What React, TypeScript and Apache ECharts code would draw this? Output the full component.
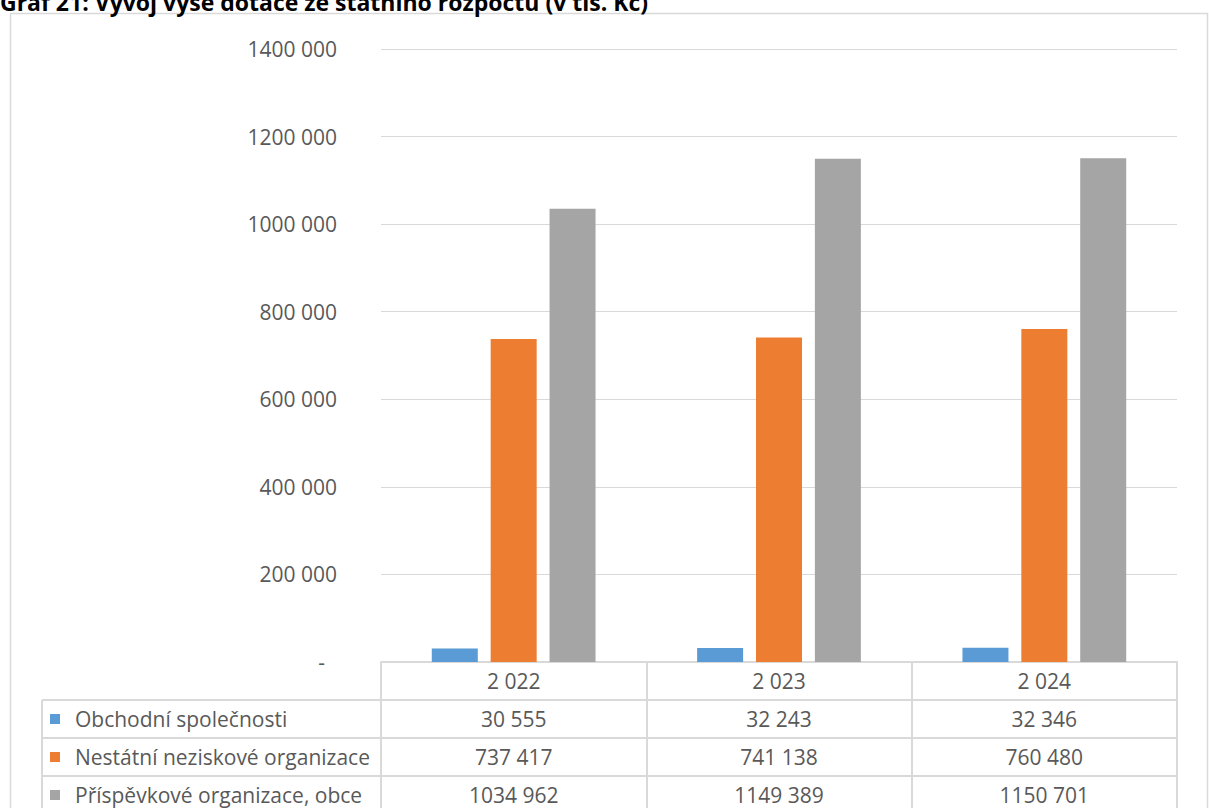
import React, { useEffect, useRef } from "react";
import * as echarts from "echarts";

// Years on the category axis
const years = [2022, 2023, 2024];

// Series names and values (v tis. Kč)
const seriesNames = [
  "Obchodní společnosti",
  "Nestátní neziskové organizace",
  "Příspěvkové organizace, obce",
];
const obchodniSpolecnosti = [30555, 32243, 32346];
const nestatniNeziskove = [737417, 741138, 760480];
const prispevkoveObce = [1034962, 1149389, 1150701];

const seriesColors = ["#5b9bd5", "#ed7d31", "#a5a5a5"];

const yMin = 0;
const yMax = 1400000;
const yStep = 200000;

const titleText = "Graf 21: Vývoj výše dotace ze státního rozpočtu (v tis. Kč)";

// Layout
const W = 1209;
const H = 808;
const FONT = "'Open Sans', 'Noto Sans', sans-serif";
const TEXT_COLOR = "#595959";
const LINE_COLOR = "#d9d9d9";
const GRID_LEFT = 381;
const GRID_RIGHT = 32;
const GRID_TOP = 49;
const GRID_BOTTOM = 146;
const ROW_H = 38;
const TABLE_LEFT = 42;

// Number format "### ##0": only the last group of three is separated
function fmt(n: number): string {
  if (n < 1000) return String(n);
  const hi = Math.floor(n / 1000);
  const lo = String(n % 1000).padStart(3, "0");
  return hi + " " + lo;
}

export default function App() {
  const ref = useRef<HTMLDivElement>(null);

  useEffect(() => {
    if (!ref.current) return;
    const chart = echarts.init(ref.current, undefined, { renderer: "svg" });

    const valueRows = [obchodniSpolecnosti, nestatniNeziskove, prispevkoveObce];
    const axisBaseY = H - GRID_BOTTOM;

    // Each row of the data table is a category axis pushed down by one row height;
    // its ticks form the vertical cell borders and its labels are the cell values.
    const tableAxis = (offset: number, formatter: (v: any, i: number) => string) => ({
      type: "category" as const,
      data: years.map(String),
      gridIndex: 0,
      position: "bottom" as const,
      offset,
      boundaryGap: true,
      axisLine: { show: true, lineStyle: { color: LINE_COLOR, width: 2 } },
      axisTick: {
        show: true,
        interval: 0,
        length: ROW_H,
        lineStyle: { color: LINE_COLOR, width: 2 },
      },
      axisLabel: {
        show: true,
        interval: 0,
        margin: 0,
        color: TEXT_COLOR,
        fontFamily: FONT,
        fontSize: 21,
        lineHeight: ROW_H,
        formatter,
      },
      splitLine: { show: false },
    });

    const xAxes = [
      tableAxis(0, (v: any) => fmt(Number(v))),
      ...valueRows.map((row, r) =>
        tableAxis(ROW_H * (r + 1), (_v: any, i: number) => fmt(row[i]))
      ),
    ];

    // Legend column of the data table
    const legendGraphics: any[] = [];
    for (let r = 0; r < 3; r++) {
      const top = axisBaseY + ROW_H * (r + 1);
      const mid = top + ROW_H / 2;
      legendGraphics.push({
        type: "line",
        shape: { x1: TABLE_LEFT, y1: top, x2: GRID_LEFT, y2: top },
        style: { stroke: LINE_COLOR, lineWidth: 2 },
      });
      legendGraphics.push({
        type: "rect",
        shape: { x: 50, y: mid - 5, width: 10, height: 10 },
        style: { fill: seriesColors[r] },
      });
      legendGraphics.push({
        type: "text",
        x: 75,
        y: mid,
        style: {
          text: seriesNames[r],
          fill: TEXT_COLOR,
          font: `21px ${FONT}`,
          verticalAlign: "middle",
          align: "left",
        },
      });
    }
    legendGraphics.push({
      type: "line",
      shape: { x1: TABLE_LEFT, y1: axisBaseY + ROW_H, x2: TABLE_LEFT, y2: H + 10 },
      style: { stroke: LINE_COLOR, lineWidth: 2 },
    });

    chart.setOption({
      animation: false,
      backgroundColor: "#ffffff",
      grid: {
        left: GRID_LEFT,
        right: GRID_RIGHT,
        top: GRID_TOP,
        bottom: GRID_BOTTOM,
        containLabel: false,
        outerBoundsMode: "none",
      },
      xAxis: xAxes,
      yAxis: {
        type: "value",
        min: yMin,
        max: yMax,
        interval: yStep,
        axisLine: { show: false },
        axisTick: { show: false },
        splitLine: { show: true, lineStyle: { color: LINE_COLOR, width: 1 } },
        axisLabel: {
          margin: 44,
          color: TEXT_COLOR,
          fontFamily: FONT,
          fontSize: 21,
          formatter: (v: number) => (v === 0 ? "{d|-}" : fmt(v)),
          rich: {
            d: {
              color: TEXT_COLOR,
              fontFamily: FONT,
              fontSize: 21,
              padding: [0, 12, 0, 0],
            },
          },
        },
      },
      series: valueRows.map((row, r) => ({
        name: seriesNames[r],
        type: "bar",
        xAxisIndex: 0,
        data: row,
        barWidth: 46,
        barGap: "28%",
        itemStyle: { color: seriesColors[r] },
      })),
      graphic: [
        {
          type: "rect",
          shape: { x: 10.5, y: 13.5, width: 1197, height: 820 },
          style: { fill: "none", stroke: LINE_COLOR, lineWidth: 1.5 },
          silent: true,
        },
        {
          type: "text",
          x: 0,
          y: 13,
          style: {
            text: titleText,
            fill: "#000000",
            font: `bold 23px ${FONT}`,
            verticalAlign: "bottom",
            align: "left",
          },
        },
        ...legendGraphics,
      ],
    });

    return () => chart.dispose();
  }, []);

  return (
    <div
      ref={ref}
      style={{ position: "absolute", left: 0, top: 0, width: W, height: H }}
    />
  );
}
